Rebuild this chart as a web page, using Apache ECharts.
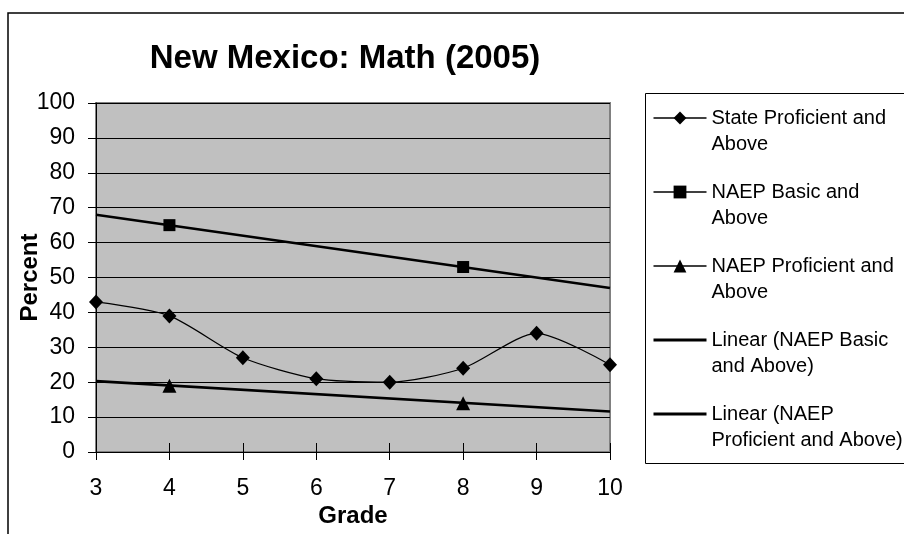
<!DOCTYPE html>
<html>
<head>
<meta charset="utf-8">
<script src="https://cdn.jsdelivr.net/npm/echarts@6/dist/echarts.min.js"></script>
<style>
  html, body { margin: 0; padding: 0; background: #fff; }
  #chart { width: 904px; height: 534px; }
</style>
</head>
<body>
<div id="chart"></div>
<script>
// grades on the x axis
var grades = [3, 4, 5, 6, 7, 8, 9, 10];
var stateProficient = [43, 39, 27, 21, 20, 24, 34, 25];
// NAEP only tested grades 4 and 8
var naepGrades = [4, 8];
var naepBasic = [65, 53];
var naepProficient = [19, 14];
// trend line ends
var trendGrades = [3, 10];
var trendBasic = [68, 47];
var trendProficient = [20.3, 11.6];

var seriesNames = [
    'State Proficient and Above',
    'NAEP Basic and Above',
    'NAEP Proficient and Above',
    'Linear (NAEP Basic and Above)',
    'Linear (NAEP Proficient and Above)'
];
// leading blank line keeps the first text line level with the icon
var legendText = {
    'State Proficient and Above': '\nState Proficient and\nAbove',
    'NAEP Basic and Above': '\nNAEP Basic and\nAbove',
    'NAEP Proficient and Above': '\nNAEP Proficient and\nAbove',
    'Linear (NAEP Basic and Above)': '\nLinear (NAEP Basic\nand Above)',
    'Linear (NAEP Proficient and Above)': '\nLinear (NAEP\nProficient and Above)'
};

function pairs(xs, ys) {
    var out = [];
    for (var i = 0; i < xs.length; i++) {
        out.push([xs[i], ys[i]]);
    }
    return out;
}

var myChart = echarts.init(document.getElementById('chart'));
var font = 'Liberation Sans, Arial, sans-serif';

var option = {
    animation: false,
    backgroundColor: '#fff',
    textStyle: { fontFamily: font, color: '#000' },
    title: {
        text: 'New Mexico: Math (2005)',
        left: 340,
        top: 37,
        textAlign: 'center',
        textStyle: { fontSize: 33, fontWeight: 'bold', color: '#000', fontFamily: font }
    },
    graphic: [
        {
            type: 'rect', z: 0,
            shape: { x: 8, y: 13, width: 1000, height: 1000 },
            style: { fill: 'none', stroke: '#000', lineWidth: 1.5 }
        },
        {
            type: 'rect', z: 1,
            shape: { x: 645.5, y: 93.5, width: 300, height: 370 },
            style: { fill: '#fff', stroke: '#000', lineWidth: 1 }
        }
    ],
    grid: {
        left: 96,
        top: 103,
        width: 514,
        height: 349,
        outerBoundsMode: 'none',
        containLabel: false,
        show: true,
        backgroundColor: '#c0c0c0',
        borderColor: '#808080',
        borderWidth: 2
    },
    legend: {
        orient: 'vertical',
        left: 652,
        top: 79,
        padding: 0,
        z: 5,
        itemWidth: 53,
        itemHeight: 16,
        itemGap: -4,
        selectedMode: false,
        formatter: function (name) { return legendText[name]; },
        textStyle: {
            fontSize: 20,
            lineHeight: 26,
            color: '#000',
            fontFamily: font
        },
        data: [
            { name: seriesNames[0], lineStyle: { width: 1.5, color: '#000', opacity: 1 } },
            { name: seriesNames[1], lineStyle: { width: 1.5, color: '#000', opacity: 1 } },
            { name: seriesNames[2], lineStyle: { width: 1.5, color: '#000', opacity: 1 } },
            { name: seriesNames[3], lineStyle: { width: 3, color: '#000', opacity: 1 }, itemStyle: { opacity: 0 } },
            { name: seriesNames[4], lineStyle: { width: 3, color: '#000', opacity: 1 }, itemStyle: { opacity: 0 } }
        ]
    },
    xAxis: [{
        type: 'value',
        min: 3,
        max: 10,
        interval: 1,
        name: 'Grade',
        nameLocation: 'middle',
        nameGap: 52,
        nameMoveOverlap: false,
        nameTextStyle: { fontSize: 24, fontWeight: 'bold', color: '#000', fontFamily: font },
        axisLine: { show: true, onZero: false, lineStyle: { color: '#000', width: 1 } },
        axisTick: { show: true, length: 8, lineStyle: { color: '#000' } },
        axisLabel: { fontSize: 23, color: '#000', margin: 25, fontFamily: font },
        splitLine: { show: false }
    }, {
        // second copy only to draw tick marks up into the plot
        type: 'value',
        min: 3,
        max: 10,
        interval: 1,
        position: 'bottom',
        axisLine: { show: false },
        axisTick: { show: true, inside: true, length: 9, lineStyle: { color: '#000' } },
        axisLabel: { show: false },
        splitLine: { show: false }
    }],
    yAxis: {
        type: 'value',
        min: 0,
        max: 100,
        interval: 10,
        name: 'Percent',
        nameLocation: 'middle',
        nameGap: 54,
        nameMoveOverlap: false,
        nameTextStyle: { fontSize: 24, fontWeight: 'bold', color: '#000', fontFamily: font },
        axisLine: { show: true, lineStyle: { color: '#000', width: 1 } },
        axisTick: { show: true, length: 8, lineStyle: { color: '#000' } },
        axisLabel: { fontSize: 23, color: '#000', margin: 21, fontFamily: font },
        splitLine: { show: true, lineStyle: { color: '#000', width: 1 } }
    },
    series: [
        {
            name: seriesNames[0],
            type: 'line',
            smooth: 0.25,
            data: pairs(grades, stateProficient),
            symbol: 'diamond',
            symbolSize: [14, 15],
            itemStyle: { color: '#000' },
            lineStyle: { color: '#000', width: 1.2 },
            emphasis: { disabled: true },
            z: 4
        },
        {
            name: seriesNames[1],
            type: 'line',
            data: pairs(naepGrades, naepBasic),
            symbol: 'rect',
            symbolSize: 12,
            itemStyle: { color: '#000' },
            lineStyle: { width: 0, opacity: 0 },
            emphasis: { disabled: true },
            z: 4
        },
        {
            name: seriesNames[2],
            type: 'line',
            data: pairs(naepGrades, naepProficient),
            symbol: 'triangle',
            symbolSize: 14,
            itemStyle: { color: '#000' },
            lineStyle: { width: 0, opacity: 0 },
            emphasis: { disabled: true },
            z: 4
        },
        {
            name: seriesNames[3],
            type: 'line',
            data: pairs(trendGrades, trendBasic),
            showSymbol: false,
            symbol: 'none',
            itemStyle: { color: '#000' },
            lineStyle: { color: '#000', width: 2.6 },
            emphasis: { disabled: true },
            z: 3
        },
        {
            name: seriesNames[4],
            type: 'line',
            data: pairs(trendGrades, trendProficient),
            showSymbol: false,
            symbol: 'none',
            itemStyle: { color: '#000' },
            lineStyle: { color: '#000', width: 2.6 },
            emphasis: { disabled: true },
            z: 3
        }
    ]
};

myChart.setOption(option);
</script>
</body>
</html>
